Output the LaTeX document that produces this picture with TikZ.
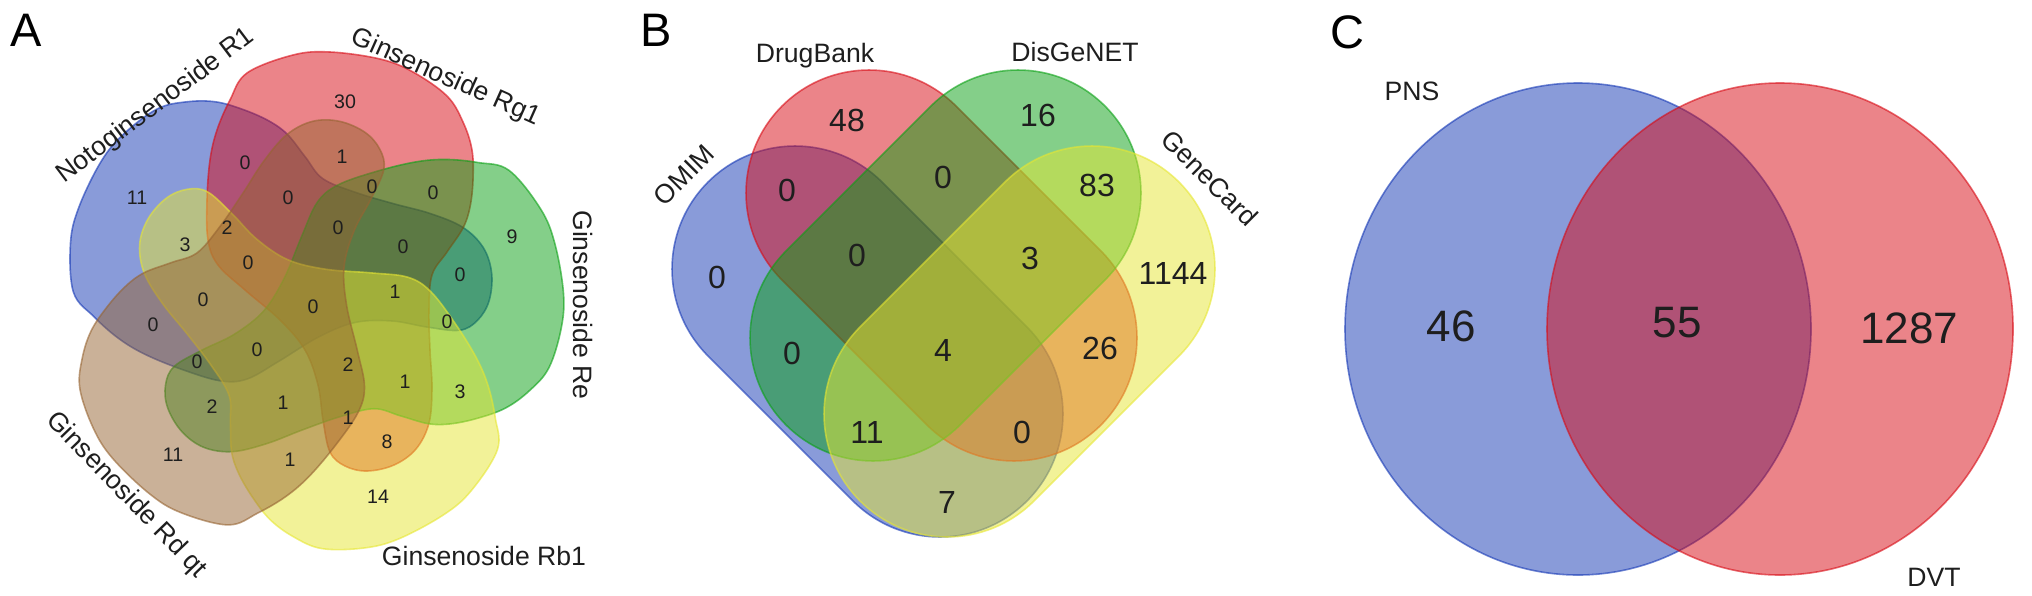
\documentclass[tikz,border=0pt]{standalone}
\usepackage{fontspec}
\setmainfont{Liberation Sans}
\definecolor{cblue}{RGB}{20,55,180}
\definecolor{cred}{RGB}{215,10,20}
\definecolor{cgreen}{RGB}{10,160,20}
\definecolor{cyellow}{RGB}{230,230,50}
\definecolor{ctan}{RGB}{150,100,50}
\definecolor{ink}{RGB}{30,30,30}
\tikzset{
  vset/.style={fill=#1, draw=#1, fill opacity=0.5, draw opacity=0.6, line width=0.8pt},
  capsule/.style={vset=#1, rounded corners=61.5pt},
  blob/.pic={
    \path[vset=#1] plot[smooth cycle, tension=0.6] coordinates {
      (-64,-229) (-18,-247) (19,-250) (69,-243) (102,-230) (136,-206) (152,-180)
      (161,-152) (162,-122) (159,-95) (152,-74) (136,-50) (121,-27) (118,8)
      (119,48) (121,86) (118,121) (105,147) (83,163) (56,169) (34,164) (19,150)
      (12,118) (7,83) (-6,48) (-31,18) (-66,-12) (-93,-37) (-103,-62) (-104,-102)
      (-101,-142) (-94,-172) (-81,-202)};
  }
}
\begin{document}
\begin{tikzpicture}[x=0.5pt,y=-0.5pt,
  every node/.style={inner sep=0pt, text=ink},
  numA/.style={font=\fontsize{9.8}{11}\selectfont},
  numB/.style={font=\fontsize{16}{18}\selectfont},
  numC/.style={font=\fontsize{22}{24}\selectfont},
  lab/.style={font=\fontsize{13.3}{15}\selectfont},
  panel/.style={font=\fontsize{23.5}{26}\selectfont, text=black}]
\useasboundingbox (0,0) rectangle (2032,595);

% ---------------- Panel A ----------------
\node[panel] (pA) at (26,30) {A};
\pic[rotate=72]  at (311,302) {blob=cblue};
\pic[rotate=0]   at (311,302) {blob=cred};
\pic[rotate=-72] at (311,302) {blob=cgreen};
\pic[rotate=216] at (311,302) {blob=cyellow};
\pic[rotate=144] at (311,302) {blob=ctan};

\node[lab, rotate=37] (lR1) at (156,106) {Notoginsenoside R1};
\node[lab, rotate=-24] (lRg1) at (446,78) {Ginsenoside Rg1};
\node[lab, rotate=-90] (lRe) at (583,305) {Ginsenoside Re};
\node[lab] (lRb1) at (484,556) {Ginsenoside Rb1};
\node[lab, rotate=-46] (lRd) at (126,495) {Ginsenoside Rd qt};

\node[numA] (a1) at (137,198) {11};
\node[numA] (a2) at (245,163) {0};
\node[numA] (a3) at (288,198) {0};
\node[numA] (a4) at (338,228) {0};
\node[numA] (a5) at (227,228) {2};
\node[numA] (a6) at (185,245) {3};
\node[numA] (a7) at (248,263) {0};
\node[numA] (a8) at (203,300) {0};
\node[numA] (a9) at (313,307) {0};
\node[numA] (a10) at (342,157) {1};
\node[numA] (a11) at (345,102) {30};
\node[numA] (a12) at (372,187) {0};
\node[numA] (a13) at (433,193) {0};
\node[numA] (a14) at (403,247) {0};
\node[numA] (a15) at (512,237) {9};
\node[numA] (a16) at (460,275) {0};
\node[numA] (a17) at (395,292) {1};
\node[numA] (a18) at (447,322) {0};
\node[numA] (a19) at (153,325) {0};
\node[numA] (a20) at (197,362) {0};
\node[numA] (a21) at (257,350) {0};
\node[numA] (a22) at (212,407) {2};
\node[numA] (a23) at (283,403) {1};
\node[numA] (a24) at (173,455) {11};
\node[numA] (a25) at (290,460) {1};
\node[numA] (a26) at (348,365) {2};
\node[numA] (a27) at (405,382) {1};
\node[numA] (a28) at (460,392) {3};
\node[numA] (a29) at (348,418) {1};
\node[numA] (a30) at (387,442) {8};
\node[numA] (a31) at (378,497) {14};

% ---------------- Panel B ----------------
\node[panel] (pB) at (656,30) {B};
\begin{scope}[shift={(867.5,341.5)}, rotate=-45]
  \path[capsule=cblue] (-225.5,-123) rectangle (225.5,123);
\end{scope}
\begin{scope}[shift={(941.5,265.5)}, rotate=-45]
  \path[capsule=cred] (-225.5,-123) rectangle (225.5,123);
\end{scope}
\begin{scope}[shift={(945.5,265.5)}, rotate=45]
  \path[capsule=cgreen] (-225.5,-123) rectangle (225.5,123);
\end{scope}
\begin{scope}[shift={(1019.5,341.5)}, rotate=45]
  \path[capsule=cyellow] (-225.5,-123) rectangle (225.5,123);
\end{scope}

\node[lab] (lDB) at (815,56) {DrugBank};
\node[lab] (lDG) at (1075,52) {DisGeNET};
\node[lab, rotate=45] (lOM) at (684,175) {OMIM};
\node[lab, rotate=-45] (lGC) at (1210,178) {GeneCard};

\node[numB] (b1) at (847,120) {48};
\node[numB] (b2) at (787,190) {0};
\node[numB] (b3) at (857,255) {0};
\node[numB] (b4) at (717,277) {0};
\node[numB] (b5) at (1038,115) {16};
\node[numB] (b6) at (1097,185) {83};
\node[numB] (b7) at (1030,258) {3};
\node[numB] (b8) at (1173,273) {1144};
\node[numB] (b9) at (943,177) {0};
\node[numB] (b10) at (943,350) {4};
\node[numB] (b11) at (792,353) {0};
\node[numB] (b12) at (867,432) {11};
\node[numB] (b13) at (947,502) {7};
\node[numB] (b14) at (1100,348) {26};
\node[numB] (b15) at (1022,432) {0};

% ---------------- Panel C ----------------
\node[panel] (pC) at (1347,32) {C};
\path[vset=cblue] (1578,329) ellipse [x radius=233, y radius=246];
\path[vset=cred] (1780,329) ellipse [x radius=233, y radius=246];
\node[lab] (lPNS) at (1412,91) {PNS};
\node[lab] (lDVT) at (1934,577) {DVT};
\node[numC] (c1) at (1451,326) {46};
\node[numC] (c2) at (1677,323) {55};
\node[numC] (c3) at (1909,328) {1287};
\end{tikzpicture}
\end{document}
